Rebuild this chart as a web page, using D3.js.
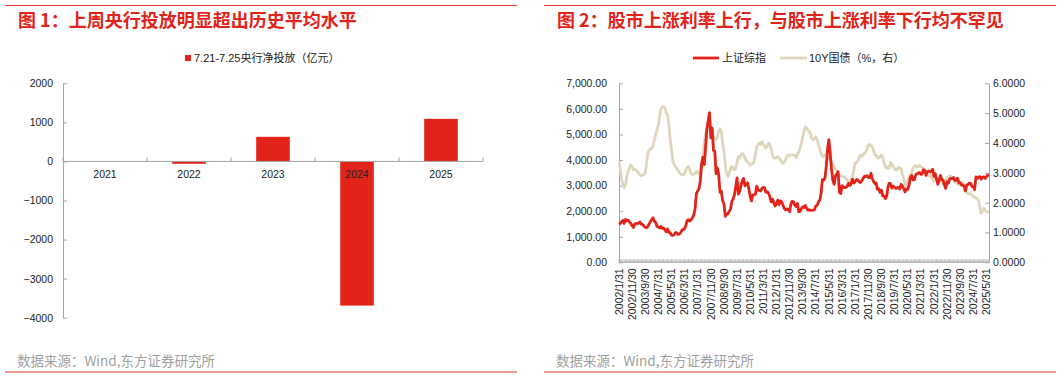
<!DOCTYPE html>
<html>
<head>
<meta charset="utf-8">
<script src="https://d3js.org/d3.v7.min.js"></script>
<style>
  body { margin: 0; background: #fff; }
  text { font-family: "Liberation Sans", "Noto Sans CJK SC", sans-serif; }
</style>
</head>
<body>
<div id="chart"></div>
<script>
// ---- data: chart 1 ----
var barYears = ["2021", "2022", "2023", "2024", "2025"];
var barValues = [0, -60, 630, -3690, 1090];
var barTicks = [2000, 1000, 0, -1000, -2000, -3000, -4000];

// ---- data: chart 2 (monthly, 2002/1 .. 2025/7) ----
var sseIndex = [
  1490,1520,1580,1640,1520,1680,1620,1650,1580,1520,1430,1360,
  1500,1510,1520,1520,1580,1490,1480,1420,1370,1350,1400,1500,
  1590,1680,1740,1600,1560,1400,1390,1340,1400,1320,1340,1270,
  1190,1300,1180,1160,1060,1050,1080,1160,1155,1090,1100,1160,
  1260,1300,1300,1440,1640,1670,1610,1660,1750,1840,2100,2680,
  2790,2880,3180,3840,4110,3820,4470,5220,5550,5850,4870,5260,
  4380,4350,3470,3690,3430,2740,2780,2400,2290,1800,1870,1900,
  1990,2080,2370,2480,2630,2960,3300,2670,2780,3000,3200,3280,
  2990,3050,3110,2870,2590,2400,2640,2640,2660,2980,2820,2810,
  2790,2900,2930,2910,2740,2760,2700,2570,2360,2470,2330,2200,
  2290,2430,2260,2400,2370,2230,2100,2050,2090,2070,1980,2270,
  2390,2370,2240,2180,2300,1980,1990,2100,2170,2140,2220,2120,
  2030,2060,2030,2030,2040,2050,2200,2220,2360,2420,2680,3230,
  3210,3310,3750,4440,4800,4280,3660,3210,3050,3380,3450,3540,
  2740,2690,3000,2940,2920,2930,2980,3090,3000,3100,3250,3100,
  3160,3240,3220,3150,3120,3190,3270,3360,3350,3390,3320,3310,
  3480,3260,3170,3080,3100,2850,2880,2730,2820,2600,2590,2490,
  2580,2940,3090,3080,2900,2980,2930,2890,2910,2930,2870,3050,
  2980,2880,2750,2860,2850,2980,3310,3400,3220,3220,3390,3470,
  3480,3510,3440,3450,3620,3590,3400,3540,3570,3550,3560,3640,
  3360,3460,3250,3050,3190,3400,3250,3200,3020,2890,3150,3090,
  3260,3280,3270,3320,3200,3200,3290,3120,3110,3020,3030,2970,
  2790,3020,3040,3100,3090,2970,2940,2840,3340,3280,3330,3350,
  3250,3320,3340,3280,3350,3400,3420
];
var bond10y = [
  3.37,3.10,2.80,2.60,2.50,2.60,2.85,3.04,3.15,3.26,3.20,3.10,
  3.12,3.09,3.05,2.98,2.92,2.90,2.92,2.94,3.00,3.30,3.65,3.75,
  3.80,3.82,3.90,4.10,4.30,4.45,4.60,4.90,5.15,5.20,5.22,5.18,
  5.00,4.94,4.60,4.16,3.80,3.40,3.30,3.21,3.15,3.08,3.00,2.96,
  2.94,2.93,2.98,3.08,3.18,3.21,3.10,2.98,2.94,2.95,2.98,3.05,
  3.00,2.98,3.10,3.30,3.60,4.00,4.32,4.43,4.50,4.55,4.50,4.40,
  4.20,4.16,4.10,4.20,4.40,4.47,4.40,4.00,3.71,3.30,2.95,2.87,
  3.00,3.15,3.21,3.15,3.10,3.15,3.35,3.54,3.50,3.60,3.65,3.60,
  3.50,3.40,3.37,3.30,3.26,3.30,3.30,3.40,3.60,3.88,3.95,4.00,
  3.95,4.04,3.95,3.90,3.82,3.90,3.99,3.95,3.80,3.60,3.49,3.50,
  3.50,3.54,3.50,3.45,3.35,3.32,3.35,3.45,3.55,3.60,3.58,3.60,
  3.60,3.60,3.58,3.50,3.60,3.70,3.82,4.00,4.20,4.38,4.55,4.50,
  4.45,4.38,4.30,4.15,4.10,4.15,4.21,4.10,3.95,3.82,3.65,3.55,
  3.54,3.60,3.58,3.60,3.50,3.43,3.35,3.30,3.21,3.10,3.05,2.95,
  2.93,2.90,2.88,2.87,2.85,2.80,2.75,2.70,2.72,2.80,2.87,3.10,
  3.32,3.35,3.40,3.49,3.60,3.55,3.60,3.65,3.70,3.80,3.93,3.95,
  3.90,3.88,3.75,3.60,3.60,3.50,3.49,3.55,3.60,3.50,3.35,3.20,
  3.15,3.20,3.15,3.35,3.30,3.20,3.15,3.09,3.10,3.20,3.15,3.15,
  2.95,2.80,2.60,2.55,2.70,2.85,2.93,3.00,3.15,3.22,3.24,3.20,
  3.21,3.25,3.20,3.18,3.15,3.10,3.00,2.90,2.90,2.95,2.85,2.78,
  2.72,2.80,2.80,2.82,2.75,2.80,2.75,2.65,2.75,2.70,2.85,2.87,
  2.90,2.88,2.85,2.80,2.70,2.65,2.65,2.60,2.68,2.70,2.68,2.60,
  2.45,2.37,2.30,2.30,2.30,2.25,2.20,2.18,2.15,2.15,2.05,1.86,
  1.64,1.72,1.81,1.75,1.70,1.68,1.70
];
var dateTicks = ["2002/1/31","2002/11/30","2003/9/30","2004/7/31","2005/5/31","2006/3/31",
  "2007/1/31","2007/11/30","2008/9/30","2009/7/31","2010/5/31","2011/3/31","2012/1/31",
  "2012/11/30","2013/9/30","2014/7/31","2015/5/31","2016/3/31","2017/1/31","2017/11/30",
  "2018/9/30","2019/7/31","2020/5/31","2021/3/31","2022/1/31","2022/11/30","2023/9/30",
  "2024/7/31","2025/5/31"];
var months = d3.timeMonth.range(new Date(2002, 0, 1), new Date(2025, 7, 1));

var red = "#e2231a", gold = "#e0d6bd", axisGray = "#a6a6a6", lineRed = "#e8392f";

var svg = d3.select("#chart").append("svg")
    .attr("width", 1061).attr("height", 379);

// frame: rules, titles, source
function panel(x0, x1, title) {
    svg.append("line").attr("x1", x0).attr("x2", x1).attr("y1", 5.5).attr("y2", 5.5)
        .attr("stroke", lineRed).attr("stroke-width", 1.2);
    svg.append("line").attr("x1", x0).attr("x2", x1).attr("y1", 372).attr("y2", 372)
        .attr("stroke", lineRed).attr("stroke-width", 1.2);
    svg.append("text").attr("x", x0 + 13).attr("y", 27)
        .style("font-family", "'Noto Sans CJK SC'")
        .attr("font-size", 18).attr("font-weight", "bold").attr("fill", red)
        .text(title);
    svg.append("text").attr("x", x0 + 12).attr("y", 366)
        .style("font-family", "'Noto Sans CJK SC'")
        .attr("font-size", 13.5).attr("fill", "#a0a0a0")
        .text("数据来源：Wind,东方证券研究所");
}
panel(5, 517, "图 1：上周央行投放明显超出历史平均水平");
panel(544, 1056, "图 2：股市上涨利率上行，与股市上涨利率下行均不罕见");

// ================= chart 1: bars =================
var x1 = d3.scaleBand().domain(barYears).range([63, 483])
    .paddingInner(0.6).paddingOuter(0.3);
var y1 = d3.scaleLinear().domain([-4000, 2000]).range([317.7, 83.3]);

var g1 = svg.append("g");
g1.append("g")
    .attr("transform", "translate(63,0)")
    .call(d3.axisLeft(y1).tickValues(barTicks).tickFormat(d3.format("d"))
        .tickSizeInner(-4).tickSizeOuter(0).tickPadding(10))
    .call(function(g) {
        g.select(".domain").attr("stroke", axisGray);
        g.selectAll(".tick line").attr("stroke", axisGray);
        g.selectAll(".tick text").attr("font-size", 10.5).attr("fill", "#222")
            .style("font-family", "'Liberation Sans'");
    });

g1.selectAll("rect.bar")
    .data(barValues)
    .enter()
    .append("rect")
        .attr("class", "bar")
        .attr("x", function(d, i) { return x1(barYears[i]); })
        .attr("width", x1.bandwidth())
        .attr("y", function(d) { return y1(Math.max(0, d)); })
        .attr("height", function(d) { return Math.abs(y1(d) - y1(0)); })
        .attr("fill", red);

// category axis on zero line
g1.append("line").attr("x1", 63).attr("x2", 483)
    .attr("y1", y1(0)).attr("y2", y1(0)).attr("stroke", axisGray);
g1.selectAll("line.ctick")
    .data(d3.range(barYears.length + 1))
    .enter()
    .append("line")
        .attr("class", "ctick")
        .attr("x1", function(i) { return 63 + i * x1.step(); })
        .attr("x2", function(i) { return 63 + i * x1.step(); })
        .attr("y1", y1(0)).attr("y2", y1(0) - 4)
        .attr("stroke", axisGray);
g1.selectAll("text.cat")
    .data(barYears)
    .enter()
    .append("text")
        .attr("class", "cat")
        .attr("x", function(d) { return x1(d) + x1.bandwidth() / 2; })
        .attr("y", y1(0) + 17)
        .attr("text-anchor", "middle")
        .attr("font-size", 10.5).attr("fill", "#222")
        .text(function(d) { return d; });

// legend
g1.append("rect").attr("x", 185).attr("y", 55).attr("width", 6).attr("height", 6).attr("fill", red);
g1.append("text").attr("x", 194).attr("y", 62)
    .attr("font-size", 11).attr("fill", "#222")
    .text("7.21-7.25央行净投放（亿元）");

// ================= chart 2: lines =================
var x2 = d3.scaleTime().domain([months[0], months[months.length - 1]]).range([619, 989]);
var yL = d3.scaleLinear().domain([0, 7000]).range([262.3, 83.3]);
var yR = d3.scaleLinear().domain([0, 6]).range([262.3, 83.3]);

var g2 = svg.append("g");

g2.append("g")
    .attr("transform", "translate(619,0)")
    .call(d3.axisLeft(yL).ticks(7).tickFormat(d3.format(",.2f"))
        .tickSizeInner(-4).tickSizeOuter(0).tickPadding(12))
    .call(function(g) {
        g.select(".domain").attr("stroke", axisGray);
        g.selectAll(".tick line").attr("stroke", axisGray);
        g.selectAll(".tick text").attr("font-size", 10.5).attr("fill", "#222")
            .style("font-family", "'Liberation Sans'");
    });

g2.append("g")
    .attr("transform", "translate(989,0)")
    .call(d3.axisRight(yR).ticks(6).tickFormat(d3.format(".4f"))
        .tickSizeInner(-4).tickSizeOuter(0).tickPadding(4))
    .call(function(g) {
        g.select(".domain").attr("stroke", axisGray);
        g.selectAll(".tick line").attr("stroke", axisGray);
        g.selectAll(".tick text").attr("font-size", 10.5).attr("fill", "#222")
            .style("font-family", "'Liberation Sans'");
    });

// bottom axis with monthly ticks
g2.append("line").attr("x1", 619).attr("x2", 989)
    .attr("y1", yL(0)).attr("y2", yL(0)).attr("stroke", axisGray);
g2.selectAll("line.mtick")
    .data(months)
    .enter()
    .append("line")
        .attr("class", "mtick")
        .attr("x1", function(d) { return x2(d); })
        .attr("x2", function(d) { return x2(d); })
        .attr("y1", yL(0)).attr("y2", yL(0) - 3)
        .attr("stroke", "#b0b0b0").attr("stroke-width", 0.8);

var parseTick = d3.timeParse("%Y/%m/%d");
g2.selectAll("text.dlabel")
    .data(dateTicks)
    .enter()
    .append("text")
        .attr("class", "dlabel")
        .attr("transform", function(d) {
            return "translate(" + x2(d3.timeMonth.floor(parseTick(d))) + "," + (yL(0) + 6) + ") rotate(-90)";
        })
        .attr("dy", "0.35em")
        .attr("text-anchor", "end")
        .attr("font-size", 10.5).attr("fill", "#222")
        .text(function(d) { return d; });

var lineL = d3.line()
    .x(function(d, i) { return x2(months[i]); })
    .y(function(d) { return yL(d); });
var lineR = d3.line()
    .x(function(d, i) { return x2(months[i]); })
    .y(function(d) { return yR(d); });

g2.append("path").datum(bond10y)
    .attr("d", lineR)
    .attr("fill", "none").attr("stroke", gold).attr("stroke-width", 2.8)
    .attr("stroke-linejoin", "round");
g2.append("path").datum(sseIndex)
    .attr("d", lineL)
    .attr("fill", "none").attr("stroke", red).attr("stroke-width", 2.8)
    .attr("stroke-linejoin", "round");

// legend
g2.append("line").attr("x1", 693).attr("x2", 719).attr("y1", 58).attr("y2", 58)
    .attr("stroke", red).attr("stroke-width", 2.8);
g2.append("text").attr("x", 722).attr("y", 62)
    .attr("font-size", 11).attr("fill", "#222").text("上证综指");
g2.append("line").attr("x1", 780).attr("x2", 807).attr("y1", 58).attr("y2", 58)
    .attr("stroke", gold).attr("stroke-width", 2.8);
g2.append("text").attr("x", 809).attr("y", 62)
    .attr("font-size", 11).attr("fill", "#222").text("10Y国债（%，右）");
</script>
</body>
</html>
